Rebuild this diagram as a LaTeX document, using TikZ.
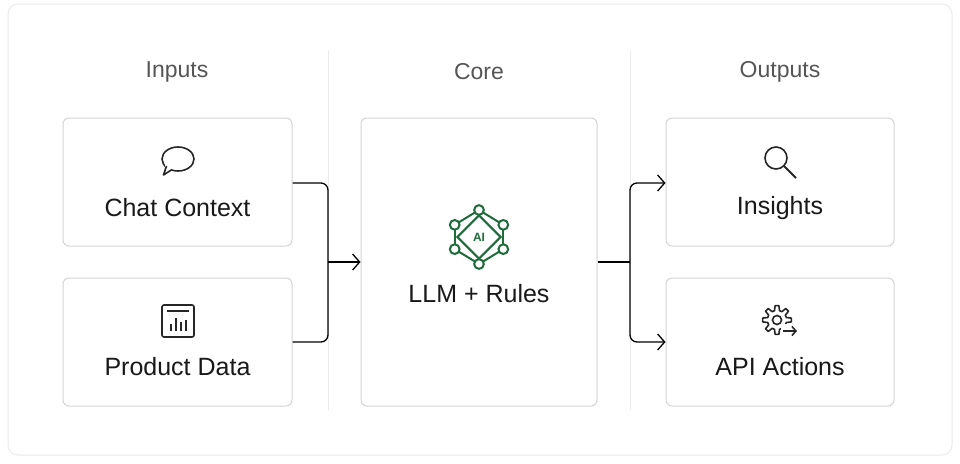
\documentclass[tikz,border=0pt]{standalone}
\usepackage{fontspec}
\setmainfont{Liberation Sans}
\usetikzlibrary{arrows.meta}
\definecolor{bd}{HTML}{D4D4D4}
\definecolor{gr}{HTML}{1F6B3A}
\definecolor{hd}{HTML}{555555}
\begin{document}
\begin{tikzpicture}[x=1pt,y=-1pt,
  box/.style={draw=bd,line width=1pt,rounded corners=6pt,fill=white,inner sep=0pt},
  lbl/.style={font=\fontsize{25}{28}\selectfont,text=black!90},
  hdr/.style={font=\fontsize{23}{26}\selectfont,text=hd},
  con/.style={line width=1.3pt,rounded corners=7pt},
  arr/.style={con,-{Straight Barb[length=7pt,width=16pt]}},
  ic/.style={line width=1.6pt,black!85}]
\useasboundingbox (0,0) rectangle (960,463);
\fill[white] (0,0) rectangle (960,463);
\draw[draw=black!8,line width=1pt,rounded corners=10pt,fill=white] (8,4) rectangle (952,455);
\draw[black!8,line width=1pt] (328,50) -- (328,410);
\draw[black!8,line width=1pt] (630,50) -- (630,410);
\node[hdr] (hin) at (177,72) {Inputs};
\node[hdr] (hco) at (479,72) {Core};
\node[hdr] (hout) at (780,72) {Outputs};
\node[box,minimum width=229pt,minimum height=128pt] (chat) at (177.5,182) {};
\node[box,minimum width=229pt,minimum height=128pt] (prod) at (177.5,342) {};
\node[box,minimum width=236pt,minimum height=288pt] (core) at (479,262) {};
\node[box,minimum width=228pt,minimum height=128pt] (ins) at (780,182) {};
\node[box,minimum width=228pt,minimum height=128pt] (api) at (780,342) {};
\node[lbl] (t1) at (177.5,208) {Chat Context};
\node[lbl] (t2) at (177.5,367) {Product Data};
\node[lbl] (t3) at (479,294) {LLM + Rules};
\node[lbl] (t4) at (780,208) {Insights};
\node[lbl] (t5) at (780,367) {API Actions};
% connectors
\coordinate (jl) at (328,262);
\coordinate (jr) at (630,262);
\draw[con] (chat.east |- 0,183) -| (328,262);
\draw[con] (prod.east |- 0,342) -| (328,262);
\draw[arr] (jl) -- (core.west |- jl);
\draw[con] (core.east |- jr) -- (jr);
\draw[arr] (jr) |- (ins.west |- 0,183);
\draw[arr] (jr) |- (api.west |- 0,342);
% chat icon
\draw[ic] (178,159) ellipse (16pt and 12pt);
\fill[white] (165,163) rectangle (172,175);
\draw[ic,line join=round] (166.5,166) -- (163.5,175) -- (172,169.5);
% product icon
\draw[ic,rounded corners=2pt] (162,305) rectangle (194,337);
\draw[ic] (167,311) -- (189,311);
\draw[ic] (171,331) -- (171,324) (176,331) -- (176,318) (181,331) -- (181,322) (186,331) -- (186,320);
% search icon
\draw[ic] (776,158) circle (11pt);
\draw[ic,line width=1.9pt] (784,166) -- (796,178);
% gear icon
\begin{scope}[shift={(777,320)}]
\draw[ic,line join=round] plot[smooth cycle,samples=49,domain=0:360] ({(12+2.4*sign(cos(8*\x)))*cos(\x)},{(12+2.4*sign(cos(8*\x)))*sin(\x)});
\fill[white] (4,4) rectangle (21,17);
\draw[ic] (0,0) circle (4.5pt);
\draw[ic,-{Straight Barb[length=4pt,width=9pt]}] (6,11) -- (20,11);
\end{scope}
% AI icon
\begin{scope}[shift={(479,237)},gr,line width=2pt,scale=1.35]
\draw (0,-16) -- (16,0) -- (0,16) -- (-16,0) -- cycle;
\draw (0,-20) -- (-18,-9) (0,-20) -- (18,-9) (0,20) -- (-18,9) (0,20) -- (18,9);
\draw (-18,-9) -- (-18,9) (18,-9) -- (18,9);
\foreach \p in {(0,-20),(-18,-9),(18,-9),(-18,9),(18,9),(0,20)} \draw[fill=white] \p circle (3.6pt);
\node[font=\bfseries\fontsize{12}{13}\selectfont,text=gr] (ai) at (0,0) {AI};
\end{scope}
\end{tikzpicture}
\end{document}
